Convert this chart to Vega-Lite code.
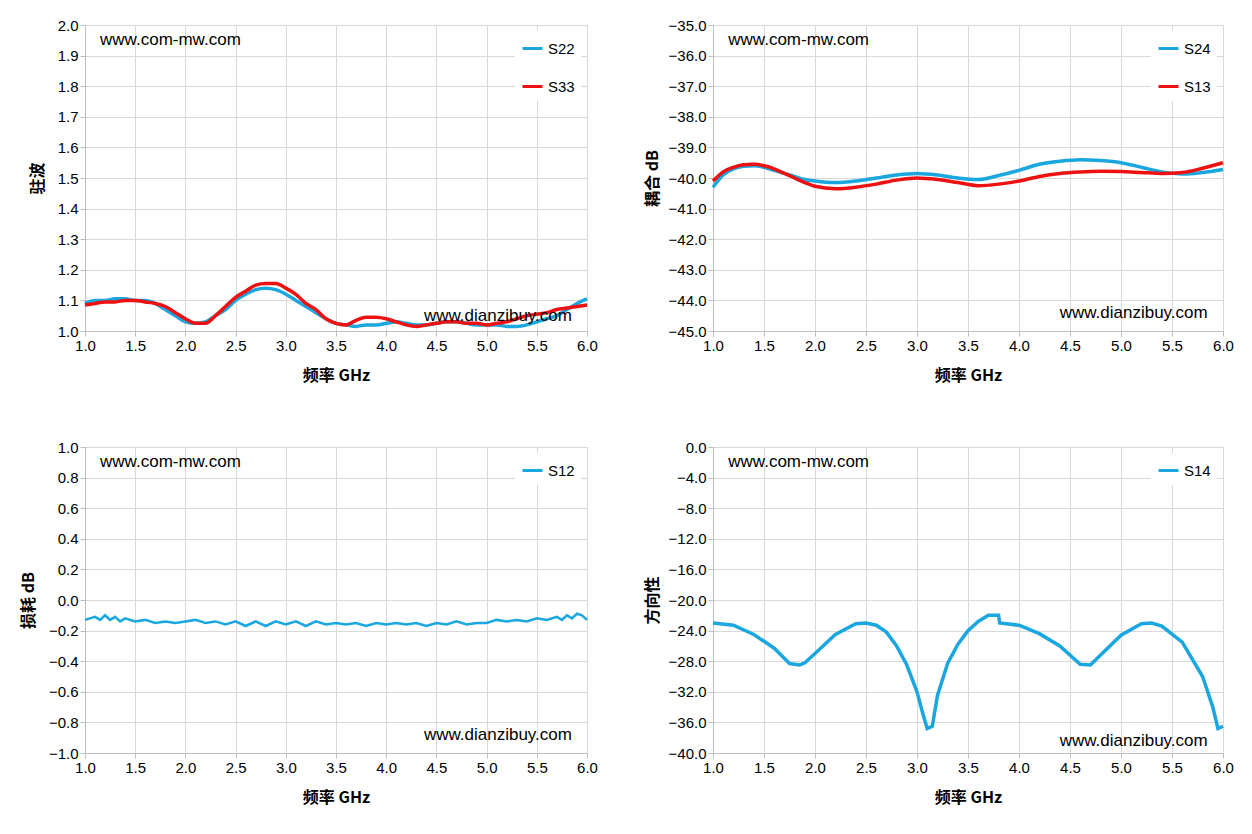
{
"$schema":"https://vega.github.io/schema/vega-lite/v6.json",
"background":"white",
"padding":{"left":19,"top":17,"right":10,"bottom":5},
"config":{"font":"Noto Sans CJK SC","view":{"stroke":"#d9d9d9"},
"axis":{"labelFontSize":15,"labelColor":"#000","labelFont":"Liberation Sans","labelFlush":false,"labelOverlap":false,"tickCount":11,"titleFontSize":16,"titleFont":"Noto Sans CJK SC","titleFontWeight":"bold","titleColor":"#000","gridColor":"#d9d9d9","domainColor":"#bfbfbf","tickColor":"#bfbfbf","tickSize":5},
"legend":{"labelFontSize":15,"labelFont":"Liberation Sans","symbolType":"stroke","symbolStrokeWidth":3,"symbolSize":400,"fillColor":"white","padding":6,"orient":"top-right","title":null,"offset":6,"rowPadding":18}},
"resolve":{"scale":{"color":"independent"},"legend":{"color":"independent"}},
"spacing":55,
"vconcat":[
{"resolve":{"scale":{"color":"independent"},"legend":{"color":"independent"}},"spacing":45,"hconcat":[
{"width":502,"height":306,"layer":[
{"data":{"values":[
{"f":1.0,"v":1.09,"s":"S22"},{"f":1.1,"v":1.1,"s":"S22"},{"f":1.2,"v":1.1,"s":"S22"},{"f":1.3,"v":1.105,"s":"S22"},{"f":1.4,"v":1.105,"s":"S22"},{"f":1.5,"v":1.1,"s":"S22"},{"f":1.6,"v":1.1,"s":"S22"},{"f":1.7,"v":1.09,"s":"S22"},{"f":1.8,"v":1.07,"s":"S22"},{"f":1.9,"v":1.05,"s":"S22"},{"f":2.0,"v":1.03,"s":"S22"},{"f":2.1,"v":1.025,"s":"S22"},{"f":2.2,"v":1.03,"s":"S22"},{"f":2.3,"v":1.05,"s":"S22"},{"f":2.4,"v":1.07,"s":"S22"},{"f":2.5,"v":1.1,"s":"S22"},{"f":2.6,"v":1.12,"s":"S22"},{"f":2.7,"v":1.135,"s":"S22"},{"f":2.8,"v":1.14,"s":"S22"},{"f":2.9,"v":1.135,"s":"S22"},{"f":3.0,"v":1.12,"s":"S22"},{"f":3.1,"v":1.1,"s":"S22"},{"f":3.2,"v":1.08,"s":"S22"},{"f":3.3,"v":1.06,"s":"S22"},{"f":3.4,"v":1.04,"s":"S22"},{"f":3.5,"v":1.025,"s":"S22"},{"f":3.6,"v":1.02,"s":"S22"},{"f":3.7,"v":1.015,"s":"S22"},{"f":3.8,"v":1.02,"s":"S22"},{"f":3.9,"v":1.02,"s":"S22"},{"f":4.0,"v":1.025,"s":"S22"},{"f":4.1,"v":1.03,"s":"S22"},{"f":4.2,"v":1.025,"s":"S22"},{"f":4.3,"v":1.02,"s":"S22"},{"f":4.4,"v":1.02,"s":"S22"},{"f":4.5,"v":1.025,"s":"S22"},{"f":4.6,"v":1.03,"s":"S22"},{"f":4.7,"v":1.03,"s":"S22"},{"f":4.8,"v":1.025,"s":"S22"},{"f":4.9,"v":1.02,"s":"S22"},{"f":5.0,"v":1.02,"s":"S22"},{"f":5.1,"v":1.02,"s":"S22"},{"f":5.2,"v":1.015,"s":"S22"},{"f":5.3,"v":1.015,"s":"S22"},{"f":5.4,"v":1.02,"s":"S22"},{"f":5.5,"v":1.03,"s":"S22"},{"f":5.6,"v":1.04,"s":"S22"},{"f":5.7,"v":1.05,"s":"S22"},{"f":5.8,"v":1.07,"s":"S22"},{"f":5.9,"v":1.09,"s":"S22"},{"f":6.0,"v":1.105,"s":"S22"},
{"f":1.0,"v":1.085,"s":"S33"},{"f":1.1,"v":1.09,"s":"S33"},{"f":1.2,"v":1.095,"s":"S33"},{"f":1.3,"v":1.095,"s":"S33"},{"f":1.4,"v":1.1,"s":"S33"},{"f":1.5,"v":1.1,"s":"S33"},{"f":1.6,"v":1.095,"s":"S33"},{"f":1.7,"v":1.09,"s":"S33"},{"f":1.8,"v":1.08,"s":"S33"},{"f":1.9,"v":1.06,"s":"S33"},{"f":2.0,"v":1.04,"s":"S33"},{"f":2.1,"v":1.025,"s":"S33"},{"f":2.2,"v":1.025,"s":"S33"},{"f":2.3,"v":1.05,"s":"S33"},{"f":2.4,"v":1.08,"s":"S33"},{"f":2.5,"v":1.11,"s":"S33"},{"f":2.6,"v":1.13,"s":"S33"},{"f":2.7,"v":1.15,"s":"S33"},{"f":2.8,"v":1.155,"s":"S33"},{"f":2.9,"v":1.155,"s":"S33"},{"f":3.0,"v":1.14,"s":"S33"},{"f":3.1,"v":1.12,"s":"S33"},{"f":3.2,"v":1.09,"s":"S33"},{"f":3.3,"v":1.07,"s":"S33"},{"f":3.4,"v":1.04,"s":"S33"},{"f":3.5,"v":1.025,"s":"S33"},{"f":3.6,"v":1.02,"s":"S33"},{"f":3.7,"v":1.035,"s":"S33"},{"f":3.8,"v":1.045,"s":"S33"},{"f":3.9,"v":1.045,"s":"S33"},{"f":4.0,"v":1.04,"s":"S33"},{"f":4.1,"v":1.03,"s":"S33"},{"f":4.2,"v":1.02,"s":"S33"},{"f":4.3,"v":1.015,"s":"S33"},{"f":4.4,"v":1.02,"s":"S33"},{"f":4.5,"v":1.025,"s":"S33"},{"f":4.6,"v":1.03,"s":"S33"},{"f":4.7,"v":1.03,"s":"S33"},{"f":4.8,"v":1.025,"s":"S33"},{"f":4.9,"v":1.025,"s":"S33"},{"f":5.0,"v":1.02,"s":"S33"},{"f":5.1,"v":1.025,"s":"S33"},{"f":5.2,"v":1.03,"s":"S33"},{"f":5.3,"v":1.04,"s":"S33"},{"f":5.4,"v":1.05,"s":"S33"},{"f":5.5,"v":1.055,"s":"S33"},{"f":5.6,"v":1.06,"s":"S33"},{"f":5.7,"v":1.07,"s":"S33"},{"f":5.8,"v":1.075,"s":"S33"},{"f":5.9,"v":1.08,"s":"S33"},{"f":6.0,"v":1.085,"s":"S33"}]},
"mark":{"type":"line","strokeWidth":3.5,"interpolate":"monotone"},
"encoding":{"x":{"field":"f","type":"quantitative","scale":{"domain":[1,6],"nice":false},"axis":{"values":[1,1.5,2,2.5,3,3.5,4,4.5,5,5.5,6],"format":".1f","title":"频率  GHz","titlePadding":14}},
"y":{"field":"v","type":"quantitative","scale":{"domain":[1,2],"nice":false,"zero":false},"axis":{"values":[1,1.1,1.2,1.3,1.4,1.5,1.6,1.7,1.8,1.9,2],"format":".1f","title":"驻波","titlePadding":12}},
"color":{"field":"s","type":"nominal","scale":{"domain":["S22","S33"],"range":["#1AA7E0","#EE1111"]}}}},
{"data":{"values":[{"f":1.15,"v":1.95,"t":"www.com-mw.com"}]},
"mark":{"type":"text","fontSize":17,"font":"Liberation Sans","baseline":"middle","align":"left"},
"encoding":{"x":{"field":"f","type":"quantitative"},"y":{"field":"v","type":"quantitative"},"text":{"field":"t"}}},
{"data":{"values":[{"f":5.85,"v":1.05,"t":"www.dianzibuy.com"}]},
"mark":{"type":"text","fontSize":17,"font":"Liberation Sans","baseline":"middle","align":"right"},
"encoding":{"x":{"field":"f","type":"quantitative"},"y":{"field":"v","type":"quantitative"},"text":{"field":"t"}}}
]},
{"width":510,"height":306,"layer":[
{"data":{"values":[
{"f":1.0,"v":-40.3,"s":"S24"},{"f":1.1,"v":-39.9,"s":"S24"},{"f":1.2,"v":-39.7,"s":"S24"},{"f":1.3,"v":-39.62,"s":"S24"},{"f":1.4,"v":-39.6,"s":"S24"},{"f":1.5,"v":-39.65,"s":"S24"},{"f":1.6,"v":-39.75,"s":"S24"},{"f":1.7,"v":-39.85,"s":"S24"},{"f":1.8,"v":-39.95,"s":"S24"},{"f":1.9,"v":-40.05,"s":"S24"},{"f":2.0,"v":-40.1,"s":"S24"},{"f":2.2,"v":-40.15,"s":"S24"},{"f":2.4,"v":-40.1,"s":"S24"},{"f":2.6,"v":-40.0,"s":"S24"},{"f":2.8,"v":-39.9,"s":"S24"},{"f":3.0,"v":-39.85,"s":"S24"},{"f":3.2,"v":-39.9,"s":"S24"},{"f":3.4,"v":-40.0,"s":"S24"},{"f":3.6,"v":-40.05,"s":"S24"},{"f":3.8,"v":-39.92,"s":"S24"},{"f":4.0,"v":-39.75,"s":"S24"},{"f":4.2,"v":-39.55,"s":"S24"},{"f":4.4,"v":-39.45,"s":"S24"},{"f":4.6,"v":-39.4,"s":"S24"},{"f":4.8,"v":-39.43,"s":"S24"},{"f":5.0,"v":-39.5,"s":"S24"},{"f":5.2,"v":-39.65,"s":"S24"},{"f":5.4,"v":-39.8,"s":"S24"},{"f":5.6,"v":-39.87,"s":"S24"},{"f":5.8,"v":-39.82,"s":"S24"},{"f":6.0,"v":-39.72,"s":"S24"},
{"f":1.0,"v":-40.1,"s":"S13"},{"f":1.1,"v":-39.8,"s":"S13"},{"f":1.2,"v":-39.65,"s":"S13"},{"f":1.3,"v":-39.57,"s":"S13"},{"f":1.4,"v":-39.55,"s":"S13"},{"f":1.5,"v":-39.6,"s":"S13"},{"f":1.6,"v":-39.7,"s":"S13"},{"f":1.7,"v":-39.85,"s":"S13"},{"f":1.8,"v":-40.0,"s":"S13"},{"f":1.9,"v":-40.15,"s":"S13"},{"f":2.0,"v":-40.27,"s":"S13"},{"f":2.2,"v":-40.35,"s":"S13"},{"f":2.4,"v":-40.3,"s":"S13"},{"f":2.6,"v":-40.2,"s":"S13"},{"f":2.8,"v":-40.07,"s":"S13"},{"f":3.0,"v":-40.0,"s":"S13"},{"f":3.2,"v":-40.05,"s":"S13"},{"f":3.4,"v":-40.15,"s":"S13"},{"f":3.6,"v":-40.25,"s":"S13"},{"f":3.8,"v":-40.2,"s":"S13"},{"f":4.0,"v":-40.1,"s":"S13"},{"f":4.2,"v":-39.95,"s":"S13"},{"f":4.4,"v":-39.85,"s":"S13"},{"f":4.6,"v":-39.8,"s":"S13"},{"f":4.8,"v":-39.78,"s":"S13"},{"f":5.0,"v":-39.79,"s":"S13"},{"f":5.2,"v":-39.82,"s":"S13"},{"f":5.4,"v":-39.85,"s":"S13"},{"f":5.6,"v":-39.82,"s":"S13"},{"f":5.8,"v":-39.68,"s":"S13"},{"f":6.0,"v":-39.5,"s":"S13"}]},
"mark":{"type":"line","strokeWidth":3.5,"interpolate":"monotone"},
"encoding":{"x":{"field":"f","type":"quantitative","scale":{"domain":[1,6],"nice":false},"axis":{"values":[1,1.5,2,2.5,3,3.5,4,4.5,5,5.5,6],"format":".1f","title":"频率  GHz","titlePadding":14}},
"y":{"field":"v","type":"quantitative","scale":{"domain":[-45,-35],"nice":false,"zero":false},"axis":{"values":[-45,-44,-43,-42,-41,-40,-39,-38,-37,-36,-35],"format":".1f","title":"耦合 dB","titlePadding":8}},
"color":{"field":"s","type":"nominal","scale":{"domain":["S24","S13"],"range":["#1AA7E0","#EE1111"]}}}},
{"data":{"values":[{"f":1.15,"v":-35.5,"t":"www.com-mw.com"}]},
"mark":{"type":"text","fontSize":17,"font":"Liberation Sans","baseline":"middle","align":"left"},
"encoding":{"x":{"field":"f","type":"quantitative"},"y":{"field":"v","type":"quantitative"},"text":{"field":"t"}}},
{"data":{"values":[{"f":5.85,"v":-44.4,"t":"www.dianzibuy.com"}]},
"mark":{"type":"text","fontSize":17,"font":"Liberation Sans","baseline":"middle","align":"right"},
"encoding":{"x":{"field":"f","type":"quantitative"},"y":{"field":"v","type":"quantitative"},"text":{"field":"t"}}}
]}
]},
{"resolve":{"scale":{"color":"independent"},"legend":{"color":"independent"}},"spacing":45,"hconcat":[
{"width":502,"height":306,"layer":[
{"data":{"values":[
{"f":1.0,"v":-0.13,"s":"S12"},{"f":1.1,"v":-0.11,"s":"S12"},{"f":1.15,"v":-0.13,"s":"S12"},{"f":1.2,"v":-0.1,"s":"S12"},{"f":1.25,"v":-0.13,"s":"S12"},{"f":1.3,"v":-0.11,"s":"S12"},{"f":1.35,"v":-0.14,"s":"S12"},{"f":1.4,"v":-0.12,"s":"S12"},{"f":1.5,"v":-0.14,"s":"S12"},{"f":1.6,"v":-0.13,"s":"S12"},{"f":1.7,"v":-0.15,"s":"S12"},{"f":1.8,"v":-0.14,"s":"S12"},{"f":1.9,"v":-0.15,"s":"S12"},{"f":2.0,"v":-0.14,"s":"S12"},{"f":2.1,"v":-0.13,"s":"S12"},{"f":2.2,"v":-0.15,"s":"S12"},{"f":2.3,"v":-0.14,"s":"S12"},{"f":2.4,"v":-0.16,"s":"S12"},{"f":2.5,"v":-0.14,"s":"S12"},{"f":2.6,"v":-0.17,"s":"S12"},{"f":2.7,"v":-0.14,"s":"S12"},{"f":2.8,"v":-0.17,"s":"S12"},{"f":2.9,"v":-0.14,"s":"S12"},{"f":3.0,"v":-0.16,"s":"S12"},{"f":3.1,"v":-0.14,"s":"S12"},{"f":3.2,"v":-0.17,"s":"S12"},{"f":3.3,"v":-0.14,"s":"S12"},{"f":3.4,"v":-0.16,"s":"S12"},{"f":3.5,"v":-0.15,"s":"S12"},{"f":3.6,"v":-0.16,"s":"S12"},{"f":3.7,"v":-0.15,"s":"S12"},{"f":3.8,"v":-0.17,"s":"S12"},{"f":3.9,"v":-0.15,"s":"S12"},{"f":4.0,"v":-0.16,"s":"S12"},{"f":4.1,"v":-0.15,"s":"S12"},{"f":4.2,"v":-0.16,"s":"S12"},{"f":4.3,"v":-0.15,"s":"S12"},{"f":4.4,"v":-0.17,"s":"S12"},{"f":4.5,"v":-0.15,"s":"S12"},{"f":4.6,"v":-0.16,"s":"S12"},{"f":4.7,"v":-0.14,"s":"S12"},{"f":4.8,"v":-0.16,"s":"S12"},{"f":4.9,"v":-0.15,"s":"S12"},{"f":5.0,"v":-0.15,"s":"S12"},{"f":5.1,"v":-0.13,"s":"S12"},{"f":5.2,"v":-0.14,"s":"S12"},{"f":5.3,"v":-0.13,"s":"S12"},{"f":5.4,"v":-0.14,"s":"S12"},{"f":5.5,"v":-0.12,"s":"S12"},{"f":5.6,"v":-0.13,"s":"S12"},{"f":5.7,"v":-0.11,"s":"S12"},{"f":5.75,"v":-0.13,"s":"S12"},{"f":5.8,"v":-0.1,"s":"S12"},{"f":5.85,"v":-0.12,"s":"S12"},{"f":5.9,"v":-0.09,"s":"S12"},{"f":5.95,"v":-0.1,"s":"S12"},{"f":6.0,"v":-0.13,"s":"S12"}]},
"mark":{"type":"line","strokeWidth":2.5},
"encoding":{"x":{"field":"f","type":"quantitative","scale":{"domain":[1,6],"nice":false},"axis":{"values":[1,1.5,2,2.5,3,3.5,4,4.5,5,5.5,6],"format":".1f","title":"频率  GHz","titlePadding":14}},
"y":{"field":"v","type":"quantitative","scale":{"domain":[-1,1],"nice":false,"zero":false},"axis":{"values":[-1,-0.8,-0.6,-0.4,-0.2,0,0.2,0.4,0.6,0.8,1],"format":".1f","title":"损耗 dB","titlePadding":12}},
"color":{"field":"s","type":"nominal","scale":{"domain":["S12"],"range":["#1AA7E0"]}}}},
{"data":{"values":[{"f":1.15,"v":0.9,"t":"www.com-mw.com"}]},
"mark":{"type":"text","fontSize":17,"font":"Liberation Sans","baseline":"middle","align":"left"},
"encoding":{"x":{"field":"f","type":"quantitative"},"y":{"field":"v","type":"quantitative"},"text":{"field":"t"}}},
{"data":{"values":[{"f":5.85,"v":-0.88,"t":"www.dianzibuy.com"}]},
"mark":{"type":"text","fontSize":17,"font":"Liberation Sans","baseline":"middle","align":"right"},
"encoding":{"x":{"field":"f","type":"quantitative"},"y":{"field":"v","type":"quantitative"},"text":{"field":"t"}}}
]},
{"width":510,"height":306,"layer":[
{"data":{"values":[
{"f":1.0,"v":-23,"s":"S14"},{"f":1.2,"v":-23.3,"s":"S14"},{"f":1.4,"v":-24.5,"s":"S14"},{"f":1.6,"v":-26.3,"s":"S14"},{"f":1.75,"v":-28.3,"s":"S14"},{"f":1.85,"v":-28.5,"s":"S14"},{"f":1.9,"v":-28.2,"s":"S14"},{"f":2.0,"v":-27,"s":"S14"},{"f":2.2,"v":-24.5,"s":"S14"},{"f":2.4,"v":-23.1,"s":"S14"},{"f":2.5,"v":-23,"s":"S14"},{"f":2.6,"v":-23.3,"s":"S14"},{"f":2.7,"v":-24.2,"s":"S14"},{"f":2.8,"v":-26,"s":"S14"},{"f":2.9,"v":-28.5,"s":"S14"},{"f":3.0,"v":-32,"s":"S14"},{"f":3.05,"v":-34.5,"s":"S14"},{"f":3.1,"v":-36.8,"s":"S14"},{"f":3.15,"v":-36.5,"s":"S14"},{"f":3.2,"v":-32.5,"s":"S14"},{"f":3.3,"v":-28.3,"s":"S14"},{"f":3.4,"v":-25.8,"s":"S14"},{"f":3.5,"v":-24,"s":"S14"},{"f":3.6,"v":-22.8,"s":"S14"},{"f":3.7,"v":-22,"s":"S14"},{"f":3.8,"v":-22,"s":"S14"},{"f":3.81,"v":-23,"s":"S14"},{"f":4.0,"v":-23.3,"s":"S14"},{"f":4.2,"v":-24.4,"s":"S14"},{"f":4.4,"v":-26,"s":"S14"},{"f":4.6,"v":-28.4,"s":"S14"},{"f":4.7,"v":-28.5,"s":"S14"},{"f":4.8,"v":-27.2,"s":"S14"},{"f":5.0,"v":-24.6,"s":"S14"},{"f":5.2,"v":-23.1,"s":"S14"},{"f":5.3,"v":-23,"s":"S14"},{"f":5.4,"v":-23.4,"s":"S14"},{"f":5.6,"v":-25.5,"s":"S14"},{"f":5.8,"v":-30,"s":"S14"},{"f":5.9,"v":-34,"s":"S14"},{"f":5.95,"v":-36.8,"s":"S14"},{"f":6.0,"v":-36.5,"s":"S14"}]},
"mark":{"type":"line","strokeWidth":3.5},
"encoding":{"x":{"field":"f","type":"quantitative","scale":{"domain":[1,6],"nice":false},"axis":{"values":[1,1.5,2,2.5,3,3.5,4,4.5,5,5.5,6],"format":".1f","title":"频率  GHz","titlePadding":14}},
"y":{"field":"v","type":"quantitative","scale":{"domain":[-40,0],"nice":false,"zero":false},"axis":{"values":[-40,-36,-32,-28,-24,-20,-16,-12,-8,-4,0],"format":".1f","title":"方向性","titlePadding":8}},
"color":{"field":"s","type":"nominal","scale":{"domain":["S14"],"range":["#1AA7E0"]}}}},
{"data":{"values":[{"f":1.15,"v":-2,"t":"www.com-mw.com"}]},
"mark":{"type":"text","fontSize":17,"font":"Liberation Sans","baseline":"middle","align":"left"},
"encoding":{"x":{"field":"f","type":"quantitative"},"y":{"field":"v","type":"quantitative"},"text":{"field":"t"}}},
{"data":{"values":[{"f":5.85,"v":-38.4,"t":"www.dianzibuy.com"}]},
"mark":{"type":"text","fontSize":17,"font":"Liberation Sans","baseline":"middle","align":"right"},
"encoding":{"x":{"field":"f","type":"quantitative"},"y":{"field":"v","type":"quantitative"},"text":{"field":"t"}}}
]}
]}
]}
